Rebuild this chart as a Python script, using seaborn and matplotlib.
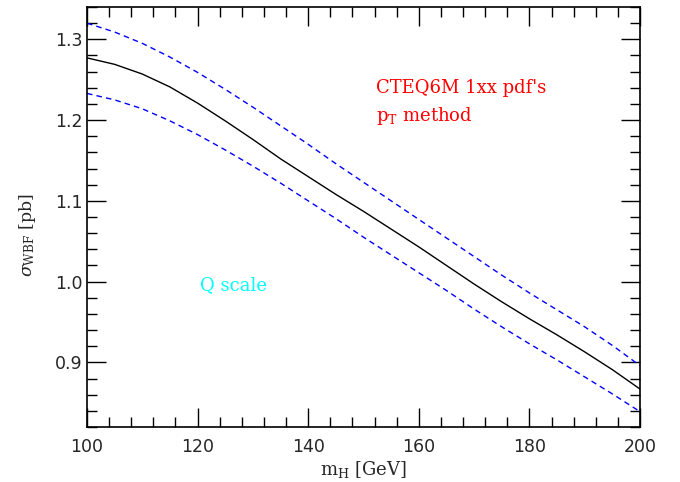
import numpy as np
import pandas as pd
import matplotlib
matplotlib.use("Agg")
import matplotlib.pyplot as plt
import seaborn as sns
from matplotlib.ticker import MultipleLocator

mass = [100, 105, 110, 115, 120, 125, 130, 135, 140, 145, 150,
        155, 160, 165, 170, 175, 180, 185, 190, 195, 200]
central = [1.277, 1.269, 1.257, 1.241, 1.221, 1.199, 1.176, 1.152, 1.130, 1.108, 1.087,
           1.065, 1.043, 1.020, 0.997, 0.975, 0.954, 0.934, 0.913, 0.891, 0.867]
upper = [1.320, 1.309, 1.295, 1.278, 1.259, 1.238, 1.216, 1.193, 1.170, 1.146, 1.123,
         1.100, 1.077, 1.054, 1.031, 1.008, 0.986, 0.965, 0.944, 0.921, 0.896]
lower = [1.233, 1.225, 1.214, 1.199, 1.182, 1.163, 1.143, 1.122, 1.100, 1.078, 1.055,
         1.033, 1.011, 0.989, 0.966, 0.944, 0.923, 0.903, 0.882, 0.861, 0.839]

df = pd.DataFrame({
    "m": mass * 3,
    "sigma": central + upper + lower,
    "curve": ["central"] * len(mass) + ["upper"] * len(mass) + ["lower"] * len(mass),
})

sns.set_style("ticks")
plt.rcParams["font.family"] = ["DejaVu Sans"]
plt.rcParams["mathtext.fontset"] = "dejavuserif"

fig = plt.figure(figsize=(6.8, 4.82), dpi=100)
ax = fig.add_axes([87/680, 1 - 427/482, (640-87)/680, (427-7)/482])

sns.lineplot(data=df, x="m", y="sigma", hue="curve", style="curve",
             palette={"central": "black", "upper": "#0000FF", "lower": "#0000FF"},
             dashes={"central": "", "upper": (4, 3), "lower": (4, 3)},
             linewidth=1.0, legend=False, ax=ax, sort=True)

ax.set_xlim(100, 200)
ax.set_ylim(0.82, 1.34)
ax.xaxis.set_major_locator(MultipleLocator(20))
ax.xaxis.set_minor_locator(MultipleLocator(4))
ax.yaxis.set_minor_locator(MultipleLocator(0.02))
ax.set_yticks([0.9, 1.0, 1.1, 1.2, 1.3])
ax.set_yticklabels(["0.9", "1.0", "1.1", "1.2", "1.3"])
ax.tick_params(which="both", direction="in", top=True, right=True, labelsize=12.5,
               color="black", width=1.0)
ax.tick_params(which="major", length=14)
ax.tick_params(which="minor", length=7)
ax.tick_params(axis="x", pad=8)
for s in ax.spines.values():
    s.set_visible(True)
    s.set_color("black")
    s.set_linewidth(1.2)

ax.set_xlabel(r"m$_{\mathrm{H}}$ [GeV]", family="DejaVu Serif", fontsize=13, labelpad=2)
ax.set_ylabel(r"$\sigma_{\mathrm{WBF}}$ [pb]", family="DejaVu Serif", fontsize=12.5)
ax.yaxis.set_label_coords(-0.088, 0.457)

ax.text(152.3, 1.2395, "CTEQ6M 1xx pdf's", color="#FF0000", family="DejaVu Serif",
        fontsize=13, va="center", ha="left")
ax.text(152.3, 1.205, r"p$_{\mathrm{T}}$ method", color="#FF0000", family="DejaVu Serif",
        fontsize=13, va="center", ha="left")
ax.text(120.4, 0.995, "Q scale", color="#00FFFF", family="DejaVu Serif",
        fontsize=13, va="center", ha="left")

fig.savefig("out.png", dpi=100)
